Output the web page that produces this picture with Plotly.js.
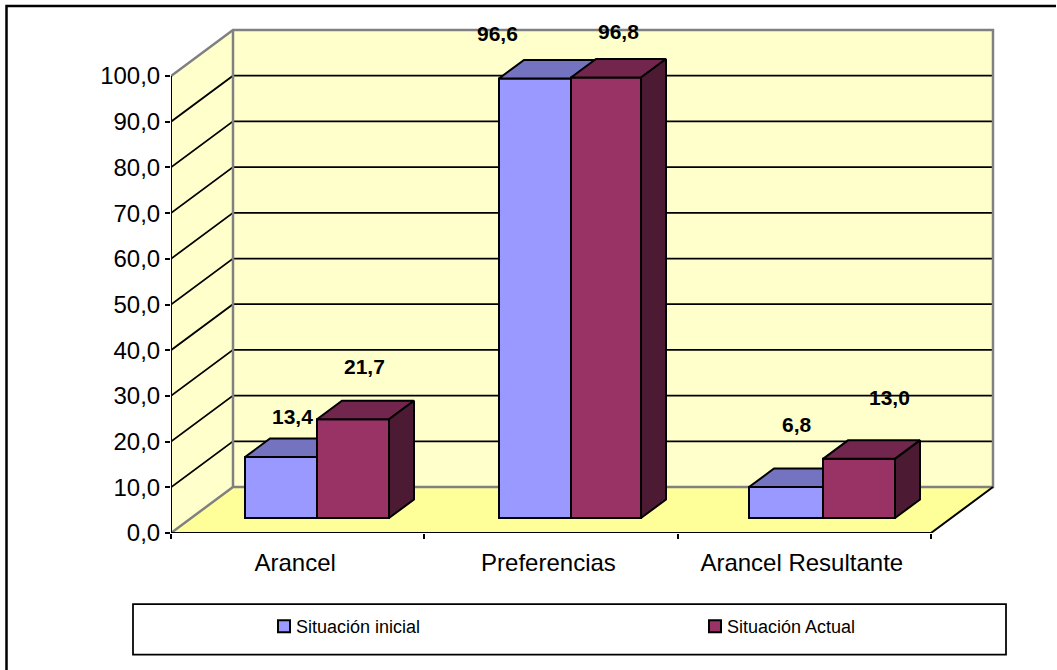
<!DOCTYPE html>
<html>
<head>
<meta charset="utf-8">
<script src="https://cdn.plot.ly/plotly-3.0.1.min.js"></script>
<style>html,body{margin:0;padding:0;background:#fff}#chart{width:1057px;height:670px}</style>
</head>
<body>
<div id="chart"></div>
<script>
// ---- data ----
const categories = ["Arancel", "Preferencias", "Arancel Resultante"];
const seriesNames = ["Situación inicial", "Situación Actual"];
const inicial = [13.4, 96.6, 6.8];
const actual = [21.7, 96.8, 13.0];
const yTicks = [0,10,20,30,40,50,60,70,80,90,100];
const xBoundaries = [0,1,2,3];

// ---- layout constants (pixels of the 1057x670 page) ----
const W = 1057, H = 670;
const L = 171, R = 1057, T = 4, B = 533;
const xUnit = 253.33, yUnit = 4.57;
const barUnit = 4.55, barBasePx = 518;
const depthPxX = 62, depthPxY = 46;
const barDepthPxX = 25, barDepthPxY = 18.5;
const blueLeftPx = [245, 499, 749], splitPx = [317, 571, 823], redRightPx = [389, 641, 895];
const blueLabelShift = [[11,41],[-37.5,45],[11,63]];
const redLabelShift = [[11,53],[12,46],[30,61]];
const FONT = "Liberation Sans, Arial, sans-serif";
const C = {wall:"#FFFFCC", floor:"#FFFF99", edge:"#808080", blue:"#9999FF", blueTop:"#7373BF",
           red:"#993366", redTop:"#73264D", redSide:"#4D1A33"};

// ---- helpers ----
const xMax = (R-L)/xUnit, yMax = (B-T)/yUnit;
const dx = depthPxX/xUnit, dy = depthPxY/yUnit;
const pxX = p => (p-L)/xUnit;
const paperX = p => (p-L)/(R-L), paperY = p => (B-p)/(B-T);
const barRange = [(barBasePx-B)/barUnit, (barBasePx-T)/barUnit];
const bdx = barDepthPxX/xUnit, bdy = barDepthPxY/barUnit;
const poly = pts => "M" + pts.map(p => p.join(",")).join("L") + "Z";
const open = pts => "M" + pts.map(p => p.join(",")).join("L");
const fmt = v => v.toFixed(1).replace(".", ",");

// ---- walls, floor, grid ----
const shapes = [];
const dataShape = (path, fill, color, width) => ({type:"path", xref:"x", yref:"y", layer:"below",
  path, fillcolor:fill||"rgba(0,0,0,0)", line:{color:color||"rgba(0,0,0,0)", width:width||0}});
shapes.push(dataShape(poly([[dx,dy],[3+dx,dy],[3+dx,100+dy],[dx,100+dy]]), C.wall));
shapes.push(dataShape(poly([[0,0],[dx,dy],[dx,100+dy],[0,100]]), C.wall));
shapes.push(dataShape(poly([[0,0],[3,0],[3+dx,dy],[dx,dy]]), C.floor));
yTicks.slice(1,-1).forEach(v => shapes.push(dataShape(open([[0,v],[dx,v+dy],[3+dx,v+dy]]), null, "#000", 1.75)));
shapes.push(dataShape(open([[0,100],[dx,100+dy],[3+dx,100+dy],[3+dx,dy],[dx,dy],[0,0]]), null, C.edge, 2.5));
shapes.push(dataShape(open([[dx,dy],[dx,100+dy]]), null, C.edge, 2.5));
shapes.push(dataShape(open([[0,100],[0,0],[3,0],[3+dx,dy]]), null, "#000", 2));
// legend box and page frame
shapes.push({type:"rect", xref:"paper", yref:"paper", x0:paperX(133), x1:paperX(1006), y0:paperY(604), y1:paperY(654.5),
  line:{color:"#000", width:1.75}, fillcolor:"rgba(0,0,0,0)"});
shapes.push({type:"path", xref:"paper", yref:"paper",
  path:open([[paperX(6.5),paperY(H)],[paperX(6.5),paperY(6)],[paperX(W-1),paperY(6)]]),
  line:{color:"#000", width:2.5}});

// ---- marks ----
const bar = (vals, name, color, leftPx, rightPx, xa, ya) => ({
  type:"bar", name, x:rightPx.map(pxX), y:vals, width:rightPx.map((r,i)=>(r-leftPx[i])/xUnit),
  offset:rightPx.map((r,i)=>-(r-leftPx[i])/xUnit), xaxis:xa, yaxis:ya,
  marker:{color, line:{color:"#000", width:2}}, hoverinfo:"y"});
const face = (pts, color, xa, ya) => ({type:"scatter", mode:"lines", fill:"toself", fillcolor:color,
  x:pts.map(p=>p[0]).concat(pts[0][0]), y:pts.map(p=>p[1]).concat(pts[0][1]),
  line:{color:"#000", width:2}, showlegend:false, hoverinfo:"skip", xaxis:xa, yaxis:ya});

const traces = [];
traces.push(bar(inicial, seriesNames[0], C.blue, blueLeftPx, splitPx, "x2", "y2"));
inicial.forEach((v,i) => {
  const a = pxX(blueLeftPx[i]), b = pxX(splitPx[i]);
  traces.push(face([[a,v],[b,v],[b+bdx,v+bdy],[a+bdx,v+bdy]], C.blueTop, "x2", "y2"));
});
traces.push(bar(actual, seriesNames[1], C.red, splitPx, redRightPx, "x3", "y3"));
actual.forEach((v,i) => {
  const a = pxX(splitPx[i]), b = pxX(redRightPx[i]);
  traces.push(face([[a,v],[b,v],[b+bdx,v+bdy],[a+bdx,v+bdy]], C.redTop, "x3", "y3"));
  traces.push(face([[b,0],[b+bdx,bdy],[b+bdx,v+bdy],[b,v]], C.redSide, "x3", "y3"));
});

// ---- value labels ----
const labelFont = {family:FONT, size:21, color:"#000"};
const annotations = [];
const addLabels = (vals, leftPx, rightPx, shift) => vals.forEach((v,i) => annotations.push({
  xref:"x3", yref:"y3", x:pxX((leftPx[i]+rightPx[i])/2), y:v, text:"<b>"+fmt(v)+"</b>",
  showarrow:false, xshift:shift[i][0], yshift:shift[i][1], xanchor:"center", yanchor:"middle", font:labelFont}));
addLabels(inicial, blueLeftPx, splitPx, blueLabelShift);
addLabels(actual, splitPx, redRightPx, redLabelShift);

const hidden = over => ({overlaying:over, range:[0,xMax], visible:false, fixedrange:true});
const hiddenY = over => ({overlaying:over, range:barRange, visible:false, fixedrange:true});

const layout = {
  width:W, height:H, autosize:false, separators:",.",
  margin:{l:L, r:W-R, t:T, b:H-B, pad:0, autoexpand:false},
  paper_bgcolor:"#fff", plot_bgcolor:"rgba(0,0,0,0)",
  font:{family:FONT, color:"#000"},
  barmode:"overlay",
  xaxis:{range:[0,xMax], tickmode:"array", tickvals:[0.49,1.49,2.49], ticktext:categories,
    ticks:"outside", ticklen:8, tickcolor:"rgba(0,0,0,0)", showgrid:false, zeroline:false, showline:false,
    tickfont:{family:FONT, size:24}, fixedrange:true,
    minor:{tickmode:"array", tickvals:xBoundaries, ticks:"outside", ticklen:5, tickwidth:2, tickcolor:"#000", showgrid:false}},
  yaxis:{range:[0,yMax], tickmode:"array", tickvals:yTicks, tickformat:".1f",
    ticks:"outside", ticklen:5, tickwidth:2, tickcolor:"#000", showgrid:false, zeroline:false, showline:false,
    tickfont:{family:FONT, size:24}, fixedrange:true},
  xaxis2:hidden("x"), yaxis2:hiddenY("y"),
  xaxis3:hidden("x"), yaxis3:hiddenY("y"),
  showlegend:true,
  legend:{orientation:"h", xref:"paper", yref:"paper", x:paperX(256), y:paperY(608), xanchor:"left", yanchor:"top",
    entrywidth:386, entrywidthmode:"pixels", bgcolor:"rgba(0,0,0,0)", borderwidth:0,
    font:{family:FONT, size:18, color:"#000"}, traceorder:"normal"},
  shapes, annotations
};
Plotly.newPlot("chart", traces, layout, {displayModeBar:false, staticPlot:true}).then(gd => {
  // pull the legend swatches next to their text, as in the original
  gd.querySelectorAll(".legend .legendsymbols").forEach(s => s.setAttribute("transform", "translate(8,0)"));
});
</script>
</body>
</html>
